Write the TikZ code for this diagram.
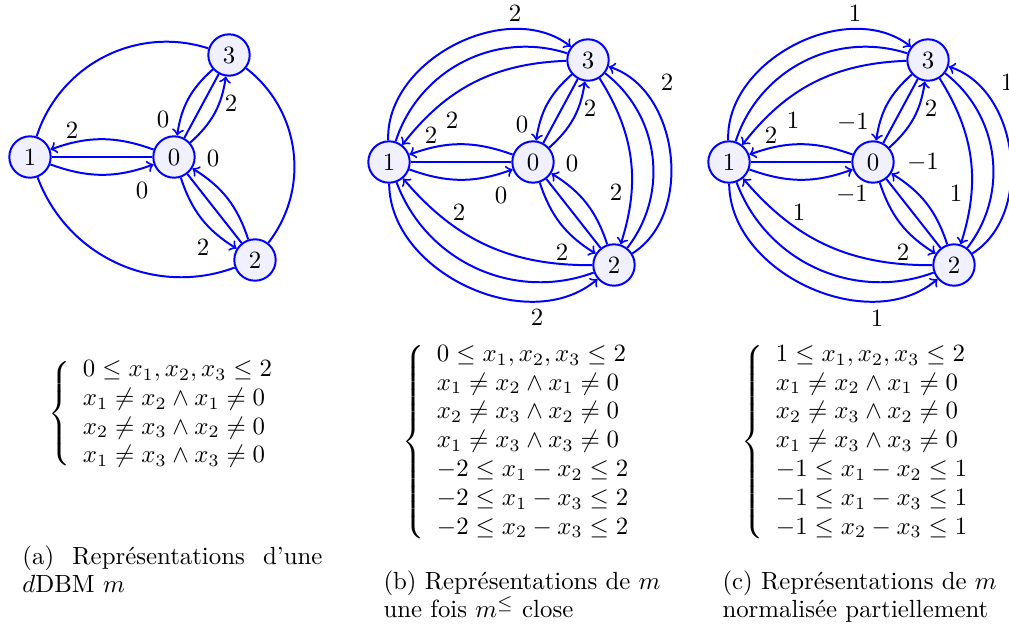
\documentclass[tikz,border=0pt]{standalone}
\usepackage{fontspec}
\usepackage{amsmath}
\begin{document}
\fontsize{10}{11.6}\selectfont
\begin{tikzpicture}[x=0.40276pt,y=0.40276pt,
  vtx/.style={circle,draw=blue,fill=blue!6,line width=0.8pt,inner sep=0pt,minimum size=16.67pt},
  uarc/.style={draw=blue,line width=0.8pt},
  darc/.style={draw=blue,line width=0.8pt,->},
  elbl/.style={inner sep=0pt},
  eqn/.style={anchor=west,inner sep=0pt},
  capt/.style={anchor=north west,inner sep=0pt}]
\useasboundingbox (0,0) rectangle (1009,-631);
\clip (0,0) rectangle (1009,-631);

% ---------------- (a)
\begin{scope}[shift={(174,-157)}]
\node[vtx] (a0) at (0,0) {$0$};
\node[vtx] (a1) at (-144,0) {$1$};
\node[vtx] (a3) at (55,102) {$3$};
\node[vtx] (a2) at (81,-103) {$2$};
\draw[uarc] (a1) -- (a0);
\draw[uarc] (a3) -- (a0);
\draw[uarc] (a2) -- (a0);
\draw[darc] (a0) to[bend right=20] (a1);
\draw[darc] (a1) to[bend right=20] (a0);
\draw[darc] (a3) to[bend right=20] (a0);
\draw[darc] (a0) to[bend right=20] (a3);
\draw[darc] (a2) to[bend right=20] (a0);
\draw[darc] (a0) to[bend right=20] (a2);
\draw[uarc] (a1) to[bend left=45] (a3);
\draw[uarc] (a3) to[bend left=45] (a2);
\draw[uarc] (a1) to[bend right=45] (a2);
\node[elbl] (a-l01) at (-102,27) {$2$};
\node[elbl] (a-l10) at (-32,-33) {$0$};
\node[elbl] (a-l30) at (-11,38) {$0$};
\node[elbl] (a-l03) at (57,54) {$2$};
\node[elbl] (a-l20) at (39,-1) {$0$};
\node[elbl] (a-l02) at (29,-90) {$2$};
\end{scope}

% ---------------- (b)
\begin{scope}[shift={(533,-162)}]
\node[vtx] (b0) at (0,0) {$0$};
\node[vtx] (b1) at (-144,0) {$1$};
\node[vtx] (b3) at (55,102) {$3$};
\node[vtx] (b2) at (81,-103) {$2$};
\draw[uarc] (b1) -- (b0);
\draw[uarc] (b3) -- (b0);
\draw[uarc] (b2) -- (b0);
\draw[darc] (b0) to[bend right=20] (b1);
\draw[darc] (b1) to[bend right=20] (b0);
\draw[darc] (b3) to[bend right=20] (b0);
\draw[darc] (b0) to[bend right=20] (b3);
\draw[darc] (b2) to[bend right=20] (b0);
\draw[darc] (b0) to[bend right=20] (b2);
\draw[uarc] (b1) to[bend left=45] (b3);
\draw[uarc] (b3) to[bend left=45] (b2);
\draw[uarc] (b1) to[bend right=45] (b2);
\draw[darc] (b1) to[bend left=65] (b3);
\draw[darc] (b3) to[bend right=25] (b1);
\draw[darc] (b2) to[bend left=25] (b1);
\draw[darc] (b1) to[bend right=65] (b2);
\draw[darc] (b3) to[bend left=25] (b2);
\draw[darc] (b2) to[bend right=65] (b3);
\node[elbl] (b-l01) at (-102,27) {$2$};
\node[elbl] (b-l10) at (-32,-33) {$0$};
\node[elbl] (b-l30) at (-11,38) {$0$};
\node[elbl] (b-l03) at (57,54) {$2$};
\node[elbl] (b-l20) at (39,-1) {$0$};
\node[elbl] (b-l02) at (29,-90) {$2$};
\node[elbl] (b-l13) at (-18,149) {$2$};
\node[elbl] (b-l31) at (-81,42) {$2$};
\node[elbl] (b-l21) at (-74,-50) {$2$};
\node[elbl] (b-l12) at (4,-155) {$2$};
\node[elbl] (b-l32) at (83,-30) {$2$};
\node[elbl] (b-l23) at (134,80) {$2$};
\end{scope}

% ---------------- (c)
\begin{scope}[shift={(873,-162)}]
\node[vtx] (c0) at (0,0) {$0$};
\node[vtx] (c1) at (-144,0) {$1$};
\node[vtx] (c3) at (55,102) {$3$};
\node[vtx] (c2) at (81,-103) {$2$};
\draw[uarc] (c1) -- (c0);
\draw[uarc] (c3) -- (c0);
\draw[uarc] (c2) -- (c0);
\draw[darc] (c0) to[bend right=20] (c1);
\draw[darc] (c1) to[bend right=20] (c0);
\draw[darc] (c3) to[bend right=20] (c0);
\draw[darc] (c0) to[bend right=20] (c3);
\draw[darc] (c2) to[bend right=20] (c0);
\draw[darc] (c0) to[bend right=20] (c2);
\draw[uarc] (c1) to[bend left=45] (c3);
\draw[uarc] (c3) to[bend left=45] (c2);
\draw[uarc] (c1) to[bend right=45] (c2);
\draw[darc] (c1) to[bend left=65] (c3);
\draw[darc] (c3) to[bend right=25] (c1);
\draw[darc] (c2) to[bend left=25] (c1);
\draw[darc] (c1) to[bend right=65] (c2);
\draw[darc] (c3) to[bend left=25] (c2);
\draw[darc] (c2) to[bend right=65] (c3);
\node[elbl] (c-l01) at (-102,27) {$2$};
\node[elbl] (c-l10) at (-21,-33) {$-1$};
\node[elbl] (c-l30) at (-20,39) {$-1$};
\node[elbl] (c-l03) at (58,54) {$2$};
\node[elbl] (c-l20) at (50,-1) {$-1$};
\node[elbl] (c-l02) at (30,-90) {$2$};
\node[elbl] (c-l13) at (-18,149) {$1$};
\node[elbl] (c-l31) at (-80,42) {$1$};
\node[elbl] (c-l21) at (-74,-50) {$1$};
\node[elbl] (c-l12) at (4,-156) {$1$};
\node[elbl] (c-l32) at (83,-31) {$1$};
\node[elbl] (c-l23) at (134,80) {$1$};
\end{scope}

% ---------------- systems
\node[eqn] (eqa) at (48,-414) {$\left\{\begin{array}{l}
 0 \leq x_1, x_2, x_3 \leq 2\\
 x_1 \neq x_2 \wedge x_1 \neq 0\\
 x_2 \neq x_3 \wedge x_2 \neq 0\\
 x_1 \neq x_3 \wedge x_3 \neq 0
\end{array}\right.$};
\node[eqn] (eqb) at (402,-442) {$\left\{\begin{array}{l}
 0 \leq x_1, x_2, x_3 \leq 2\\
 x_1 \neq x_2 \wedge x_1 \neq 0\\
 x_2 \neq x_3 \wedge x_2 \neq 0\\
 x_1 \neq x_3 \wedge x_3 \neq 0\\
 -2 \leq x_1 - x_2 \leq 2\\
 -2 \leq x_1 - x_3 \leq 2\\
 -2 \leq x_2 - x_3 \leq 2
\end{array}\right.$};
\node[eqn] (eqc) at (741,-442) {$\left\{\begin{array}{l}
 1 \leq x_1, x_2, x_3 \leq 2\\
 x_1 \neq x_2 \wedge x_1 \neq 0\\
 x_2 \neq x_3 \wedge x_2 \neq 0\\
 x_1 \neq x_3 \wedge x_3 \neq 0\\
 -1 \leq x_1 - x_2 \leq 1\\
 -1 \leq x_1 - x_3 \leq 1\\
 -1 \leq x_2 - x_3 \leq 1
\end{array}\right.$};

% ---------------- captions
\node[capt,text width=120.8pt,align=justify] (capa) at (22,-545)
  {(a) Représentations d'une $d$DBM $m$};
\node[capt,align=left] (capb) at (383,-570)
  {(b) Représentations de $m$\\une fois $m^{\leq}$ close};
\node[capt,align=left] (capc) at (722,-570)
  {(c) Représentations de $m$\\normalisée partiellement};
\end{tikzpicture}
\end{document}
